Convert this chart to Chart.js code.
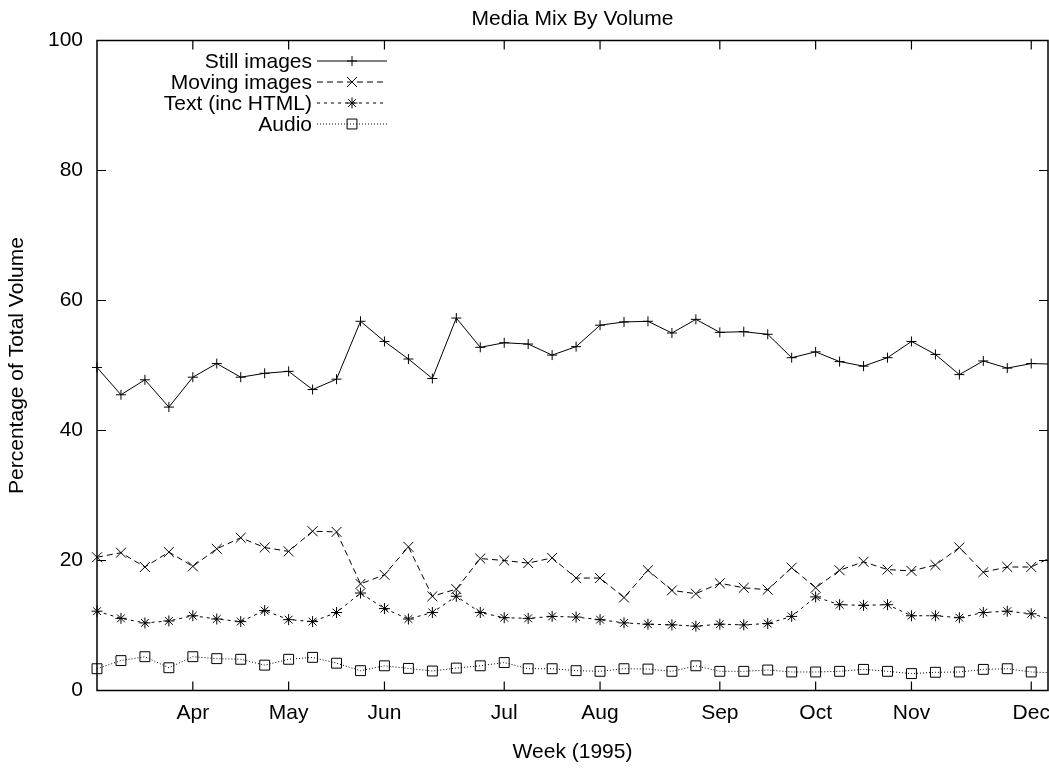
<!DOCTYPE html>
<html>
<head>
<meta charset="utf-8">
<script src="https://cdn.jsdelivr.net/npm/chart.js@4/dist/chart.umd.min.js"></script>
<style>
html,body{margin:0;padding:0;background:#fff;}
#wrap{width:1049px;height:768px;}
</style>
</head>
<body>
<div id="wrap"><canvas id="c" width="1049" height="768"></canvas></div>
<script>
// ---- data ----
const chartTitle = 'Media Mix By Volume';
const xAxisTitle = 'Week (1995)';
const yAxisTitle = 'Percentage of Total Volume';
const seriesNames = ['Still images', 'Moving images', 'Text (inc HTML)', 'Audio'];
const monthTickWeeks = [4, 8, 12, 17, 21, 26, 30, 34, 39];
const monthLabels = ['Apr', 'May', 'Jun', 'Jul', 'Aug', 'Sep', 'Oct', 'Nov', 'Dec'];
const yTickValues = [0, 20, 40, 60, 80, 100];
const stillImages = [49.7,45.5,47.8,43.6,48.2,50.3,48.2,48.8,49.1,46.3,47.9,56.8,53.7,51.0,48.0,57.3,52.8,53.5,53.3,51.6,52.9,56.2,56.7,56.8,55.0,57.1,55.1,55.2,54.8,51.2,52.1,50.6,49.9,51.2,53.7,51.7,48.6,50.7,49.6,50.3,50.2];
const movingImages = [20.5,21.2,19.0,21.3,19.1,21.8,23.5,22.0,21.4,24.5,24.4,16.4,17.8,22.1,14.5,15.6,20.3,20.0,19.6,20.4,17.3,17.3,14.3,18.5,15.4,14.9,16.5,15.8,15.5,18.9,15.8,18.5,19.8,18.6,18.4,19.3,22.0,18.2,19.0,19.0,20.8];
const textHtml = [12.2,11.1,10.4,10.7,11.5,11.0,10.6,12.3,10.9,10.6,12.0,15.0,12.6,11.0,12.0,14.5,12.0,11.2,11.1,11.4,11.3,10.9,10.4,10.2,10.1,9.9,10.2,10.1,10.3,11.4,14.4,13.2,13.1,13.2,11.5,11.5,11.2,12.0,12.2,11.8,10.8];
const audio = [3.35,4.6,5.2,3.5,5.2,4.9,4.8,3.9,4.8,5.1,4.2,3.05,3.8,3.4,3.0,3.45,3.8,4.3,3.35,3.35,3.05,2.95,3.35,3.3,2.95,3.8,2.95,2.95,3.15,2.85,2.85,2.95,3.25,2.95,2.6,2.8,2.85,3.25,3.35,2.85,2.7];

// ---- styling ----
const FONT = {family: "'Liberation Sans', Arial, Helvetica, sans-serif", size: 21, weight: 'normal'};
const seriesStyles = [
  {dash: [], pointStyle: 'cross', radius: 5},
  {dash: [6, 4], pointStyle: 'crossRot', radius: 7},
  {dash: [3, 4], pointStyle: 'star', radius: 5.5},
  {dash: [1, 2], pointStyle: 'rect', radius: 7}
];
const seriesValues = [stillImages, movingImages, textHtml, audio];

const datasets = seriesValues.map((vals, i) => ({
  label: seriesNames[i],
  data: vals.map((v, k) => ({x: k, y: v})),
  borderColor: '#000',
  borderWidth: 1,
  borderDash: seriesStyles[i].dash,
  pointStyle: seriesStyles[i].pointStyle,
  pointRadius: seriesStyles[i].radius,
  pointBorderColor: '#000',
  pointBackgroundColor: 'rgba(0,0,0,0)',
  pointBorderWidth: 1,
  fill: false,
  tension: 0,
  clip: {left: 8, top: 8, right: 0, bottom: 8}
}));

function drawMarker(ctx, style, r, x, y) {
  ctx.beginPath();
  if (style === 'cross' || style === 'star') {
    ctx.moveTo(x - r, y); ctx.lineTo(x + r, y);
    ctx.moveTo(x, y - r); ctx.lineTo(x, y + r);
  }
  if (style === 'crossRot' || style === 'star') {
    const d = r * Math.SQRT1_2;
    ctx.moveTo(x - d, y - d); ctx.lineTo(x + d, y + d);
    ctx.moveTo(x - d, y + d); ctx.lineTo(x + d, y - d);
  }
  if (style === 'rect') {
    const s = r * Math.SQRT1_2;
    ctx.rect(x - s, y - s, 2 * s, 2 * s);
  }
  ctx.stroke();
}

const framePlugin = {
  id: 'frame',
  afterDraw(chart) {
    const {ctx, chartArea: a, scales: {x, y}} = chart;
    ctx.save();
    ctx.setLineDash([]);
    ctx.strokeStyle = '#000';
    ctx.lineWidth = 1.5;
    ctx.strokeRect(a.left, a.top, a.right - a.left, a.bottom - a.top);
    ctx.lineWidth = 1.2;
    const L = 9;
    ctx.beginPath();
    y.ticks.forEach(t => {
      const py = y.getPixelForValue(t.value);
      ctx.moveTo(a.left, py); ctx.lineTo(a.left + L, py);
      ctx.moveTo(a.right, py); ctx.lineTo(a.right - L, py);
    });
    x.ticks.forEach(t => {
      const px = x.getPixelForValue(t.value);
      ctx.moveTo(px, a.bottom); ctx.lineTo(px, a.bottom - L);
      ctx.moveTo(px, a.top); ctx.lineTo(px, a.top + L);
    });
    ctx.stroke();

    ctx.font = `${FONT.size}px ${FONT.family}`;
    ctx.fillStyle = '#000';

    // month tick labels, placed through the x scale
    ctx.textAlign = 'center';
    ctx.textBaseline = 'middle';
    x.ticks.forEach(t => {
      const idx = monthTickWeeks.indexOf(t.value);
      if (idx >= 0) ctx.fillText(monthLabels[idx], x.getPixelForValue(t.value), a.bottom + 23);
    });

    // legend (gnuplot style, inside top-left)
    const textRight = 312, lineStart = 317, lineEnd = 387, rowTop = 61, rowStep = 21;
    ctx.textAlign = 'right';
    chart.data.datasets.forEach((ds, i) => {
      const ry = rowTop + i * rowStep;
      ctx.fillText(ds.label, textRight, ry + 1);
      ctx.lineWidth = 1;
      ctx.setLineDash(ds.borderDash);
      ctx.beginPath();
      ctx.moveTo(lineStart, ry); ctx.lineTo(lineEnd, ry);
      ctx.stroke();
      ctx.setLineDash([]);
      drawMarker(ctx, ds.pointStyle, ds.pointRadius, (lineStart + lineEnd) / 2, ry);
    });
    ctx.restore();
  }
};

new Chart(document.getElementById('c'), {
  type: 'line',
  data: {datasets},
  options: {
    responsive: false,
    animation: false,
    devicePixelRatio: 1,
    layout: {autoPadding: false, padding: {left: 0, right: 1, top: 0, bottom: 0}},
    plugins: {
      legend: {display: false},
      tooltip: {enabled: false},
      title: {
        display: true,
        fullSize: false,
        text: chartTitle,
        color: '#000',
        font: FONT,
        padding: {top: 7, bottom: 8.3}
      }
    },
    scales: {
      x: {
        type: 'linear',
        min: 0,
        max: 39.7,
        afterBuildTicks(scale) { scale.ticks = monthTickWeeks.map(v => ({value: v})); },
        afterFit(scale) { scale.height = 77.5; scale.paddingLeft = 0; scale.paddingRight = 0; },
        grid: {display: false, drawTicks: false},
        border: {display: false},
        ticks: {display: false},
        title: {display: true, text: xAxisTitle, color: '#000', font: FONT, padding: {top: 0, bottom: 3}}
      },
      y: {
        type: 'linear',
        min: 0,
        max: 100,
        afterBuildTicks(scale) { scale.ticks = yTickValues.map(v => ({value: v})); },
        afterFit(scale) { scale.width = 97; scale.paddingTop = 0; scale.paddingBottom = 0; },
        grid: {display: false, drawTicks: false},
        border: {display: false},
        ticks: {color: '#000', font: FONT, padding: 14},
        title: {display: true, text: yAxisTitle, color: '#000', font: FONT, padding: {top: 5, bottom: 0}}
      }
    }
  },
  plugins: [framePlugin]
});
</script>
</body>
</html>
